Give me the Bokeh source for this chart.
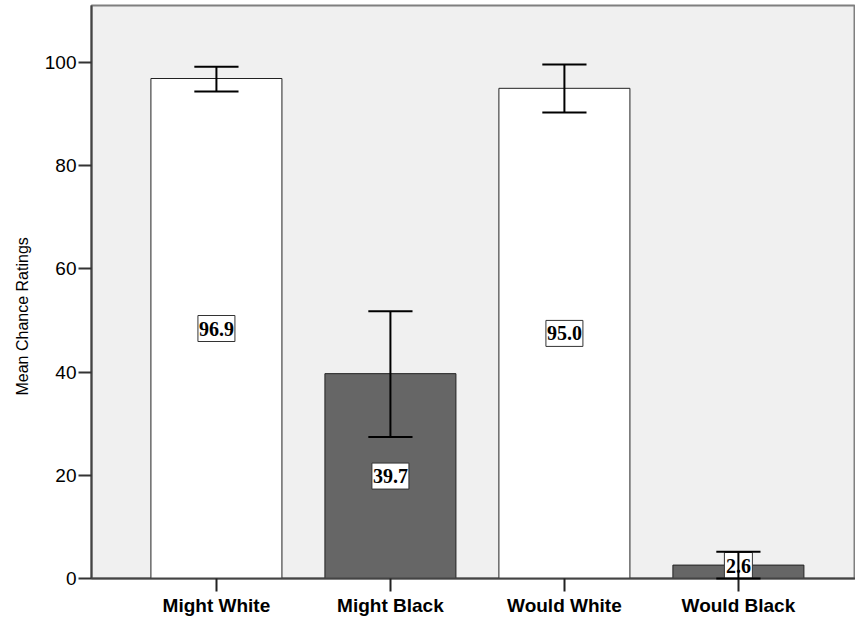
from bokeh.plotting import figure
from bokeh.models import Range1d, FixedTicker, ColumnDataSource, Title
from bokeh.core.properties import value
from bokeh.embed import file_html
from bokeh.resources import INLINE

categories = ["Might White", "Might Black", "Would White", "Would Black"]
means = [96.9, 39.7, 95.0, 2.6]
err_low = [94.4, 27.4, 90.3, 0.0]
err_high = [99.2, 51.8, 99.6, 5.2]
bar_colors = ["#FFFFFF", "#666666", "#FFFFFF", "#666666"]
y_ticks = [0, 20, 40, 60, 80, 100]
y_title = "Mean Chance Ratings"

xs = list(range(len(categories)))
bar_w = 0.753
cap_half = 0.127
y_end = 111.05
px_per_unit = 573 / y_end
box_h = 26
labels = [f"{m:.1f}" for m in means]
# label sits at mid-bar, but never lower than half a box above the axis
mids = [max(m / 2, (box_h / 2) / px_per_unit) for m in means]
box_w = [9 * len(s) + 1 for s in labels]

p = figure(width=855, height=619, output_backend="svg", toolbar_location=None,
           x_range=Range1d(-0.718, 3.673), y_range=Range1d(0, y_end),
           min_border_left=91, min_border_right=0, min_border_top=5, min_border_bottom=41)

p.background_fill_color = "#F0F0F0"
p.border_fill_color = "white"
p.outline_line_color = "#7F7F7F"
p.outline_line_width = 2
p.xgrid.visible = False
p.ygrid.visible = False

src = ColumnDataSource(dict(x=xs, top=means, color=bar_colors, lo=err_low, hi=err_high,
                            mid=mids, lab=labels, bw=box_w,
                            c0=[x - cap_half for x in xs], c1=[x + cap_half for x in xs]))
p.vbar(x="x", top="top", bottom=0, width=bar_w, fill_color="color", line_color="#222222",
       line_width=1, source=src)

# value label boxes
p.rect(x="x", y="mid", width="bw", height=box_h, width_units="screen", height_units="screen",
       fill_color="white", line_color="#333333", line_width=1, source=src)
p.text(x="x", y="mid", text="lab", text_align="center", text_baseline="middle",
       text_font=value("Liberation Serif"), text_font_style="bold", text_font_size="20px",
       text_color="black", source=src)

r1 = p.segment(x0="x", y0="lo", x1="x", y1="hi", line_color="black", line_width=2, source=src)
r2 = p.segment(x0="c0", y0="hi", x1="c1", y1="hi", line_color="black", line_width=2, source=src)
r3 = p.segment(x0="c0", y0="lo", x1="c1", y1="lo", line_color="black", line_width=2, source=src)
for r in (r1, r2, r3):
    r.level = "overlay"

# y-axis title placed like the original (slightly below the frame centre)
p.add_layout(Title(text=y_title, align="left", offset=183, standoff=22,
                   text_font="Liberation Sans", text_font_size="16px",
                   text_font_style="normal", text_color="black"), "left")

yax = p.yaxis[0]
yax.ticker = FixedTicker(ticks=y_ticks)
yax.major_label_text_font = "Liberation Sans"
yax.major_label_text_font_size = "19px"
yax.major_label_text_color = "black"
yax.major_tick_out = 13
yax.major_tick_in = 0
yax.minor_tick_out = 0
yax.minor_tick_in = 0
yax.axis_line_color = "#444444"
yax.axis_line_width = 2
yax.major_tick_line_color = "#333333"
yax.major_tick_line_width = 2
yax.major_label_standoff = 2

xax = p.xaxis[0]
xax.ticker = FixedTicker(ticks=xs)
xax.major_label_overrides = {i: c for i, c in zip(xs, categories)}
xax.major_label_text_font = "Liberation Sans"
xax.major_label_text_font_size = "19px"
xax.major_label_text_font_style = "bold"
xax.major_label_text_color = "black"
xax.major_tick_out = 13
xax.major_tick_in = 0
xax.minor_tick_out = 0
xax.minor_tick_in = 0
xax.axis_line_color = "#444444"
xax.axis_line_width = 2
xax.major_tick_line_color = "#222222"
xax.major_tick_line_width = 2
xax.major_label_standoff = 3

open("out.html", "w").write(file_html(p, INLINE))
